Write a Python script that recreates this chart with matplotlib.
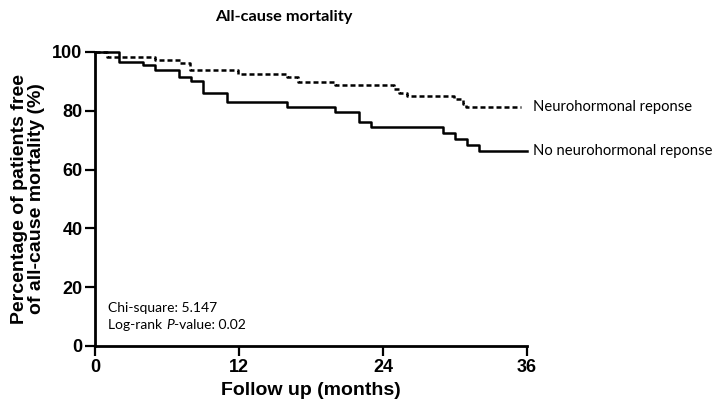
import matplotlib.pyplot as plt
import matplotlib as mpl

mpl.rcParams["font.family"] = ["Liberation Sans", "DejaVu Sans"]

# Kaplan-Meier step data (time in months, survival in %)
resp_t = [0, 1, 5, 7.1, 7.9, 11.9, 16, 16.9, 20, 24.9, 25.3, 26, 29.9, 30.7, 30.9, 35.5]
resp_s = [100, 98.3, 97.2, 96.3, 93.8, 92.6, 91.4, 89.8, 88.7, 87.4, 86.2, 85.0, 83.9, 82.2, 81.3, 81.3]

noresp_t = [0, 2, 4, 5, 7, 8, 9, 11, 16, 20, 22, 23, 29, 30, 31, 32, 36]
noresp_s = [100, 96.6, 95.5, 94.0, 91.4, 90.1, 85.9, 83.0, 81.3, 79.7, 76.3, 74.5, 72.6, 70.3, 68.3, 66.4, 66.4]

x_ticks = [0, 12, 24, 36]
y_ticks = [0, 20, 40, 60, 80, 100]

fig = plt.figure(figsize=(7.15, 4.01), dpi=100)
ax = fig.add_axes([95 / 715, 55 / 401, 432 / 715, 294 / 401])

ax.step(resp_t, resp_s, where="post", color="black", lw=1.8,
        linestyle=(0, (2.0, 1.2)), clip_on=False)
ax.step(noresp_t, noresp_s, where="post", color="black", lw=1.8, clip_on=False)

ax.set_xlim(0, 36)
ax.set_ylim(0, 100)
ax.set_xticks(x_ticks)
ax.set_yticks(y_ticks)
for s in ["top", "right"]:
    ax.spines[s].set_visible(False)
for s in ["left", "bottom"]:
    ax.spines[s].set_linewidth(2)
ax.tick_params(direction="out", length=7, width=1.6, labelsize=13, pad=2)
for lab in ax.get_xticklabels() + ax.get_yticklabels():
    lab.set_fontweight("bold")

ax.set_xlabel("Follow up (months)", fontsize=14, fontweight="bold", labelpad=5)
ax.set_ylabel("Percentage of patients free\nof all-cause mortality (%)",
              fontsize=14, fontweight="bold", linespacing=1.05)
ax.yaxis.set_label_coords(-0.115, 0.5)

fig.text(284 / 715, 1 - 17 / 401, "All-cause mortality", ha="center", va="center",
         fontsize=11.8, fontweight="bold", family="Lato")

ax.text(36.5, resp_s[-1], "Neurohormonal reponse", ha="left", va="center",
        fontsize=10.6, family="Lato")
ax.text(36.5, noresp_s[-1], "No neurohormonal reponse", ha="left", va="center",
        fontsize=10.6, family="Lato")

ax.text(1.1, 12.9, "Chi-square: 5.147", fontsize=10, family="Lato", va="center")

# second stats line with italic P, built from pieces
fig.canvas.draw()
r = fig.canvas.get_renderer()
t1 = ax.text(1.1, 7.0, "Log-rank ", fontsize=10, family="Lato", va="center")
bb = t1.get_window_extent(renderer=r)
inv = ax.transData.inverted()
x2 = inv.transform((bb.x1, bb.y0))[0]
t2 = ax.text(x2, 7.0, "P", fontsize=10, family="Lato", style="italic", va="center")
bb2 = t2.get_window_extent(renderer=r)
x3 = inv.transform((bb2.x1, bb2.y0))[0]
ax.text(x3, 7.0, "-value: 0.02", fontsize=10, family="Lato", va="center")

fig.savefig("out.png", dpi=100)
